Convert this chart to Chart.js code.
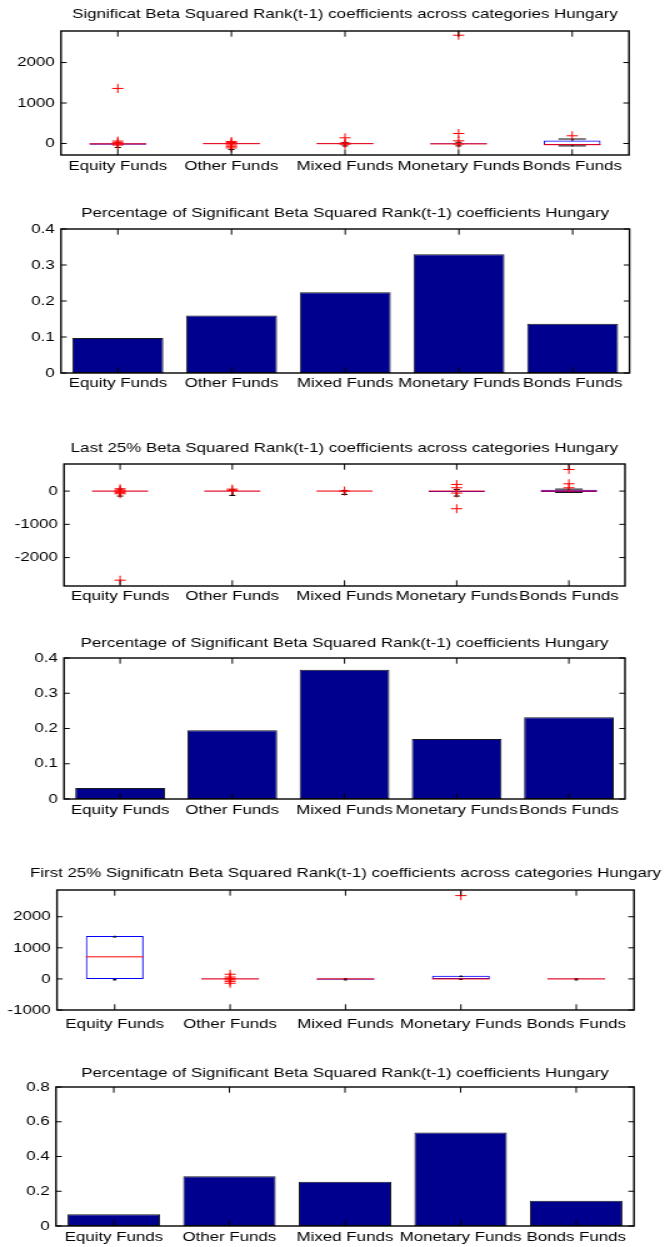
<!DOCTYPE html>
<html>
<head>
<meta charset="utf-8">
<script src="https://cdn.jsdelivr.net/npm/chart.js@4.4.1/dist/chart.umd.min.js"></script>
<style>
  html, body { margin: 0; padding: 0; background: #fff; }
  body { width: 670px; height: 1247px; position: relative; overflow: hidden; }
  canvas.panel { position: absolute; left: 0; transform-origin: 0 0; }
</style>
</head>
<body>
<script>
// ---- data ----
const categories = ['Equity Funds', 'Other Funds', 'Mixed Funds', 'Monetary Funds', 'Bonds Funds'];

// significant coefficients: box statistics and outliers
const sigQ1 = [-30, -15, -15, -20, -40];
const sigQ3 = [5, 5, 5, 5, 75];
const sigMedian = [-10, -5, -5, -10, -30];
const sigWhiskerLow = [-100, -150, -60, -60, -60];
const sigWhiskerHigh = [30, 20, 25, 30, 110];
const sigOutliers = [[1360, 60, 20, -10, -40], [50, 20, -10, -40, -80, -110], [140, 10, -20], [2675, 247, 66, -15], [190]];
const sigShare = [0.097, 0.160, 0.224, 0.330, 0.137];

// last 25%
const lastQ1 = [-10, -10, -5, -30, -30];
const lastQ3 = [10, 10, 10, 10, 40];
const lastMedian = [0, 0, 0, 0, 0];
const lastWhiskerLow = [-150, -130, -100, -150, -40];
const lastWhiskerHigh = [60, 40, 20, 50, 60];
const lastOutliers = [[70, 30, 0, -40, -80, -2680], [60, 20], [0], [200, 100, -60, -530], [650, 220, 100]];
const lastShare = [0.031, 0.195, 0.367, 0.170, 0.232];

// first 25%
const firstQ1 = [0, -10, -30, 0, -10];
const firstQ3 = [1380, 15, 10, 100, 10];
const firstMedian = [710, 0, 0, 0, 0];
const firstWhiskerLow = [-30, -30, -30, -20, -30];
const firstWhiskerHigh = [1350, 30, 10, 75, 10];
const firstOutliers = [[], [150, 60, 10, -30, -80, -140], [], [2680], []];
const firstShare = [0.067, 0.286, 0.254, 0.538, 0.146];

// y ticks and ranges
const sigTicks = [0, 1000, 2000];
const lastTicks = [-2000, -1000, 0];
const firstTicks = [-1000, 0, 1000, 2000];
const shareTicks = [0, 0.1, 0.2, 0.3, 0.4];
const firstShareTicks = [0, 0.2, 0.4, 0.6, 0.8];
const sigRange = [-285, 2780];
const lastRange = [-2855, 815];
const firstRange = [-1000, 2860];
const shareRange = [0, 0.4];
const firstShareRange = [0, 0.8];

const titles = [
  'Significat Beta Squared Rank(t-1) coefficients across categories Hungary',
  'Percentage of Significant Beta Squared Rank(t-1) coefficients Hungary',
  'Last 25% Beta Squared Rank(t-1) coefficients across categories Hungary',
  'Percentage of Significant Beta Squared Rank(t-1) coefficients Hungary',
  'First 25% Significatn Beta Squared Rank(t-1) coefficients across categories Hungary',
  'Percentage of Significant Beta Squared Rank(t-1) coefficients Hungary'
];

// ---- drawing ----
const PAGE_W = 670;
const STRETCH = 1.25;              // the whole figure is widened horizontally
const CW = PAGE_W / STRETCH;
const FONT_FAMILY = '"Liberation Sans", Arial, Helvetica, sans-serif';
const TITLE_SIZE = 13.5, XTICK_SIZE = 13.5, YTICK_SIZE = 13.5;
const BLUE = '#0000FF', RED = '#FF0000', BAR = '#00008F';

const panelTitle = {
  id: 'panelTitle',
  afterDraw(chart, args, opts) {
    const { ctx, chartArea: a } = chart;
    ctx.save();
    ctx.font = `${TITLE_SIZE}px ${FONT_FAMILY}`;
    ctx.fillStyle = '#000';
    ctx.textAlign = 'center';
    ctx.textBaseline = 'middle';
    ctx.fillText(opts.text, (a.left + a.right) / 2, opts.y);
    ctx.restore();
  }
};

// axes box with inward ticks on all four sides
const axesBox = {
  id: 'axesBox',
  afterDraw(chart) {
    const { ctx, chartArea: a, scales: { x, y } } = chart;
    const tv = 5.7, th = 5.7 / STRETCH;
    ctx.save();
    ctx.strokeStyle = '#000';
    ctx.lineWidth = 1;
    ctx.beginPath();
    x.ticks.forEach((t, i) => {
      const px = x.getPixelForTick(i);
      ctx.moveTo(px, a.bottom); ctx.lineTo(px, a.bottom - tv);
      ctx.moveTo(px, a.top); ctx.lineTo(px, a.top + tv);
    });
    y.ticks.forEach((t, i) => {
      const py = y.getPixelForTick(i);
      ctx.moveTo(a.left, py); ctx.lineTo(a.left + th, py);
      ctx.moveTo(a.right, py); ctx.lineTo(a.right - th, py);
    });
    ctx.stroke();
    ctx.lineWidth = 1.4;
    ctx.strokeRect(a.left, a.top, a.right - a.left, a.bottom - a.top);
    ctx.restore();
  }
};

function makeChart(p, datasets, ticks, range, title) {
  const canvas = document.createElement('canvas');
  canvas.className = 'panel';
  canvas.width = CW;
  canvas.height = p.height;
  canvas.style.width = CW + 'px';
  canvas.style.height = p.height + 'px';
  canvas.style.top = p.top + 'px';
  canvas.style.transform = `scaleX(${STRETCH})`;
  document.body.appendChild(canvas);

  const xFont = { family: FONT_FAMILY, size: XTICK_SIZE, lineHeight: 1.2 };
  const yFont = { family: FONT_FAMILY, size: YTICK_SIZE, lineHeight: 1.2 };
  return new Chart(canvas, {
    type: 'bar',
    data: { labels: categories, datasets },
    plugins: [panelTitle, axesBox],
    options: {
      responsive: false,
      animation: false,
      devicePixelRatio: 1,
      events: [],
      layout: { padding: { left: 0, right: CW - p.area.right / STRETCH, top: p.area.top - p.top, bottom: 0 } },
      plugins: {
        legend: { display: false },
        tooltip: { enabled: false },
        title: { display: false },
        panelTitle: { text: title, y: p.titleY - p.top }
      },
      scales: {
        x: {
          type: 'category',
          offset: true,
          grid: { display: false, drawTicks: false },
          border: { display: false },
          ticks: { font: xFont, color: '#000', padding: p.labelY - p.area.bottom - XTICK_SIZE * 0.6, maxRotation: 0, minRotation: 0, autoSkip: false },
          afterFit: s => { s.height = p.top + p.height - p.area.bottom; }
        },
        y: {
          min: range[0],
          max: range[1],
          grid: { display: false, drawTicks: false },
          border: { display: false },
          ticks: { font: yFont, color: '#000', padding: 5, autoSkip: false, callback: v => String(v) },
          afterBuildTicks: s => { s.ticks = ticks.map(v => ({ value: v })); },
          afterFit: s => { s.width = p.area.left / STRETCH; }
        }
      }
    }
  });
}

function barSets(values) {
  return [{
    type: 'bar',
    data: values,
    backgroundColor: BAR,
    borderColor: '#1a1a1a',
    borderWidth: 1,
    borderSkipped: false,
    barPercentage: 0.8,
    categoryPercentage: 1
  }];
}

function boxSets(p, q1, q3, med, wLo, wHi, outliers) {
  const catW = (p.area.right - p.area.left) / categories.length / STRETCH;
  const pts = [];
  outliers.forEach((vals, i) => vals.forEach(v => pts.push({ x: categories[i], y: v })));
  const capSet = vals => ({
    type: 'line', data: vals, showLine: false, order: 2,
    pointStyle: 'line', pointRadius: p.capRadius,
    pointBorderColor: '#000', pointBorderWidth: 1
  });
  return [
    { type: 'line', data: pts, showLine: false, order: 0,
      pointStyle: 'cross', pointRadius: 4.5, pointBorderColor: RED, pointBorderWidth: 1 },
    { type: 'line', data: med, showLine: false, order: 1,
      pointStyle: 'line', pointRadius: catW * 0.25, pointBorderColor: RED, pointBorderWidth: 1 },
    capSet(wLo),
    capSet(wHi),
    { type: 'bar', data: q1.map((v, i) => [v, q3[i]]), order: 3, grouped: false,
      backgroundColor: 'rgba(0,0,0,0)', borderColor: BLUE, borderWidth: 1, borderSkipped: false,
      barPercentage: 0.5, categoryPercentage: 1 },
    { type: 'bar', data: wLo.map((v, i) => [v, q1[i]]), order: 4, grouped: false,
      backgroundColor: '#000', borderWidth: 0, barThickness: 1 },
    { type: 'bar', data: wHi.map((v, i) => [q3[i], v]), order: 4, grouped: false,
      backgroundColor: '#000', borderWidth: 0, barThickness: 1 }
  ];
}

const panels = [
  { top: 0,    height: 180, area: { left: 61, top: 31,   right: 629,   bottom: 155 },  titleY: 14,   labelY: 166, capRadius: [2.5, 2.5, 2.5, 2.5, 11] },
  { top: 190,  height: 200, area: { left: 61, top: 229,  right: 629.5, bottom: 373 },  titleY: 213,  labelY: 383 },
  { top: 425,  height: 185, area: { left: 64, top: 464,  right: 625,   bottom: 586 },  titleY: 448,  labelY: 596, capRadius: [2.5, 2.5, 2.5, 2.5, 11] },
  { top: 620,  height: 200, area: { left: 64, top: 658,  right: 625,   bottom: 799 },  titleY: 643,  labelY: 810 },
  { top: 858,  height: 182, area: { left: 57, top: 890,  right: 634,   bottom: 1010 }, titleY: 873,  labelY: 1024, capRadius: [1.5, 1.5, 1.5, 1.5, 1.5] },
  { top: 1058, height: 189, area: { left: 56, top: 1087, right: 634,   bottom: 1226 }, titleY: 1073, labelY: 1237 }
];

makeChart(panels[0], boxSets(panels[0], sigQ1, sigQ3, sigMedian, sigWhiskerLow, sigWhiskerHigh, sigOutliers), sigTicks, sigRange, titles[0]);
makeChart(panels[1], barSets(sigShare), shareTicks, shareRange, titles[1]);
makeChart(panels[2], boxSets(panels[2], lastQ1, lastQ3, lastMedian, lastWhiskerLow, lastWhiskerHigh, lastOutliers), lastTicks, lastRange, titles[2]);
makeChart(panels[3], barSets(lastShare), shareTicks, shareRange, titles[3]);
makeChart(panels[4], boxSets(panels[4], firstQ1, firstQ3, firstMedian, firstWhiskerLow, firstWhiskerHigh, firstOutliers), firstTicks, firstRange, titles[4]);
makeChart(panels[5], barSets(firstShare), firstShareTicks, firstShareRange, titles[5]);
</script>
</body>
</html>
